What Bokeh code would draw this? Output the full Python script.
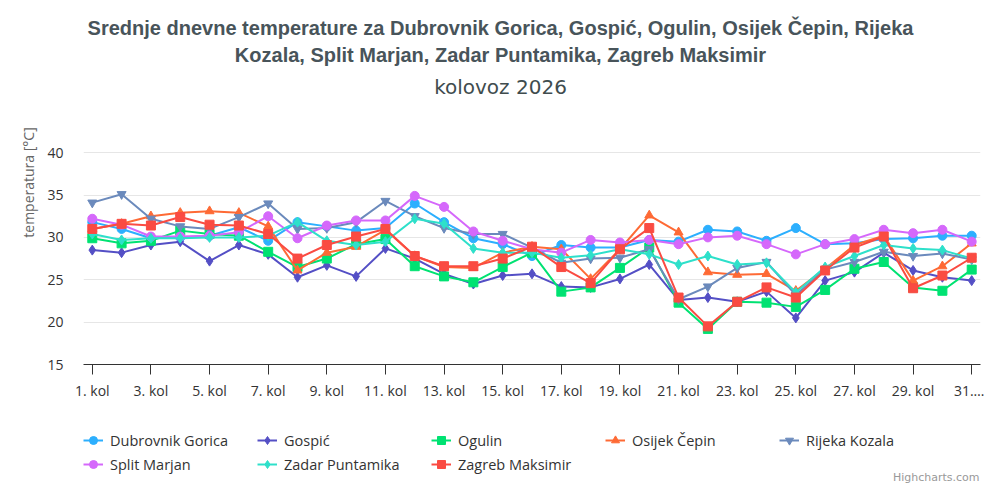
from bokeh.embed import file_html
from bokeh.layouts import column
from bokeh.models import FixedTicker, Label, Legend, LegendItem, Range1d
from bokeh.plotting import figure
from bokeh.resources import INLINE

# dani u kolovozu i oznake na osi x
days = list(range(1, 32))
tick_days = list(range(1, 32, 2))
tick_labels = ["1. kol", "3. kol", "5. kol", "7. kol", "9. kol", "11. kol",
               "13. kol", "15. kol", "17. kol", "19. kol", "21. kol", "23. kol",
               "25. kol", "27. kol", "29. kol", "31.…"]
y_ticks = [15, 20, 25, 30, 35, 40]

# srednje dnevne temperature [°C], očitane s grafikona
dubrovnik_gorica = [31.8, 31.0, 29.9, 30.0, 30.2, 31.2, 29.6, 31.8, 31.3, 30.8, 31.1,
                    34.0, 31.8, 29.9, 29.2, 27.8, 29.1, 28.8, 28.8, 29.7, 29.5, 30.9,
                    30.7, 29.6, 31.1, 29.2, 29.3, 29.8, 29.9, 30.2, 30.2]
gospic = [28.5, 28.2, 29.1, 29.5, 27.2, 29.1, 28.0, 25.3, 26.7, 25.4, 28.7,
          27.5, 25.7, 24.5, 25.5, 25.7, 24.2, 24.1, 25.1, 26.8, 22.6, 22.9,
          22.4, 23.6, 20.5, 24.9, 25.9, 28.2, 26.1, 25.3, 24.9]
ogulin = [29.9, 29.3, 29.6, 30.8, 30.4, 30.2, 28.3, 26.5, 27.5, 29.2, 29.8,
          26.6, 25.4, 24.7, 26.5, 28.2, 23.6, 24.1, 26.4, 28.8, 22.3, 19.2,
          22.4, 22.3, 21.8, 23.8, 26.3, 27.1, 24.1, 23.7, 26.2]
osijek_cepin = [31.0, 31.6, 32.5, 32.9, 33.1, 32.9, 31.3, 26.1, 28.2, 28.9, 30.9,
                27.8, 26.5, 26.4, 28.2, 28.9, 28.6, 25.1, 28.6, 32.6, 30.6, 25.9,
                25.6, 25.7, 23.7, 26.3, 29.1, 30.2, 24.9, 26.6, 29.3]
rijeka_kozala = [34.1, 35.1, 32.2, 31.3, 31.0, 32.4, 34.0, 31.0, 31.1, 31.8, 34.3,
                 32.5, 31.1, 30.4, 30.4, 28.8, 27.0, 27.5, 27.6, 28.6, 22.7, 24.2,
                 26.4, 27.1, 23.2, 26.2, 27.1, 28.3, 27.8, 28.1, 27.4]
split_marjan = [32.2, 31.5, 30.1, 30.1, 30.2, 30.6, 32.5, 29.9, 31.4, 32.0, 32.0,
                34.9, 33.6, 30.7, 29.6, 28.6, 28.2, 29.7, 29.4, 29.7, 29.2, 30.0,
                30.2, 29.2, 28.0, 29.2, 29.8, 30.9, 30.5, 30.9, 29.5]
zadar_puntamika = [30.4, 29.7, 29.9, 29.9, 30.0, 30.0, 30.2, 31.8, 29.6, 29.1, 29.5,
                   32.2, 31.6, 28.7, 28.2, 28.2, 27.6, 27.9, 28.6, 28.0, 26.8, 27.8,
                   26.8, 27.0, 23.5, 26.5, 27.8, 29.1, 28.7, 28.5, 27.5]
zagreb_maksimir = [31.0, 31.6, 31.4, 32.4, 31.5, 31.4, 30.4, 27.5, 29.1, 30.1, 31.0,
                   27.8, 26.6, 26.6, 27.5, 28.9, 26.5, 24.6, 28.6, 31.1, 22.9, 19.5,
                   22.4, 24.1, 22.9, 26.1, 28.8, 30.1, 24.0, 25.5, 27.6]

names = ["Dubrovnik Gorica", "Gospić", "Ogulin", "Osijek Čepin", "Rijeka Kozala",
         "Split Marjan", "Zadar Puntamika", "Zagreb Maksimir"]
series = [dubrovnik_gorica, gospic, ogulin, osijek_cepin, rijeka_kozala,
          split_marjan, zadar_puntamika, zagreb_maksimir]
colors = ["#2caffe", "#544fc5", "#00e272", "#fe6a35", "#6b8abc",
          "#d568fb", "#2ee0ca", "#fa4b42"]
markers = ["circle", "diamond", "square", "triangle", "inverted_triangle",
           "circle", "diamond", "square"]
marker_sizes = [9, 10, 9, 9, 9, 9, 10, 9]

FONT = "Open Sans"

# okvir ide do vrha platna (bez obruba i gornje mreže), pa naslovi stanu u njega;
# 15..40 °C zauzima 213 px, a cijeli okvir 366 px
frame_h = 366
y_top = 15 + 25 * frame_h / 213

p = figure(width=984, height=402, x_range=Range1d(0.7, 31.3), y_range=Range1d(15, y_top),
           output_backend="svg", toolbar_location=None, tools="",
           min_border_left=83, min_border_right=4, min_border_top=0,
           min_border_bottom=36)
p.outline_line_color = None
p.xgrid.grid_line_color = None
p.ygrid.grid_line_color = "#e6e6e6"
p.ygrid.ticker = FixedTicker(ticks=y_ticks)

p.xaxis.ticker = FixedTicker(ticks=tick_days)
p.xaxis.major_label_overrides = dict(zip(tick_days, tick_labels))
p.xaxis.axis_line_color = "#333333"
p.xaxis.major_tick_line_color = "#333333"
p.xaxis.major_tick_out = 10
p.xaxis.major_tick_in = 0
p.xaxis.minor_tick_line_color = None
p.xaxis.major_label_standoff = 6
p.xaxis.major_label_text_font = FONT
p.xaxis.major_label_text_font_size = "14px"
p.xaxis.major_label_text_color = "#333333"

p.yaxis.ticker = FixedTicker(ticks=y_ticks)
p.yaxis.axis_line_color = None
p.yaxis.major_tick_line_color = None
p.yaxis.minor_tick_line_color = None
p.yaxis.major_tick_out = 0
p.yaxis.major_tick_in = 0
p.yaxis.major_label_standoff = 20
p.yaxis.major_label_text_font = FONT
p.yaxis.major_label_text_font_size = "14px"
p.yaxis.major_label_text_color = "#333333"
p.yaxis.axis_label = "temperatura [°C]"
p.yaxis.axis_label_text_font = FONT
p.yaxis.axis_label_text_font_size = "14px"
p.yaxis.axis_label_text_font_style = "normal"
p.yaxis.axis_label_text_color = "#666666"
p.yaxis.axis_label_standoff = 6

for vals, col, mk, sz in zip(series, colors, markers, marker_sizes):
    p.line(days, vals, line_color=col, line_width=2)
    p.scatter(days, vals, marker=mk, size=sz, fill_color=col, line_color=col)

# naslov i podnaslov (pikseli od donjeg lijevog kuta okvira)
title_lines = ["Srednje dnevne temperature za Dubrovnik Gorica, Gospić, Ogulin, Osijek Čepin, Rijeka",
               "Kozala, Split Marjan, Zadar Puntamika, Zagreb Maksimir"]
for txt, yy in zip(title_lines, [336.7, 310]):
    p.add_layout(Label(x=417, y=yy, x_units="screen", y_units="screen", text=txt,
                       text_align="center", text_baseline="alphabetic",
                       text_font="Liberation Sans", text_font_size="20px",
                       text_font_style="bold", text_color="#48545a"))
p.add_layout(Label(x=417, y=277.7, x_units="screen", y_units="screen", text="kolovoz 2026",
                   text_align="center", text_baseline="alphabetic",
                   text_font="DejaVu Sans", text_font_size="20px",
                   text_color="#404c4e"))

# donja traka: legenda i oznaka izvora (isti nizovi, izvan vidljivog raspona,
# samo da legenda ima svoje simbole)
leg = figure(width=984, height=82, x_range=Range1d(-2, -1), y_range=Range1d(-2, -1),
             output_backend="svg", toolbar_location=None, tools="",
             x_axis_location=None, y_axis_location=None,
             min_border_left=0, min_border_right=0, min_border_top=0, min_border_bottom=0)
leg.outline_line_color = None
leg.xgrid.visible = False
leg.ygrid.visible = False

items = []
for name, vals, col, mk, sz in zip(names, series, colors, markers, marker_sizes):
    ln = leg.line(days, vals, line_color=col, line_width=2)
    sc = leg.scatter(days, vals, marker=mk, size=sz, fill_color=col, line_color=col)
    items.append(LegendItem(label=name, renderers=[ln, sc]))

legend = Legend(items=items, orientation="horizontal", ncols=5, location=(0, 10),
                padding=0, margin=0, spacing=4, glyph_width=20, glyph_height=20,
                label_standoff=7, label_width=143, label_height=20,
                label_text_font=FONT, label_text_font_size="14.5px",
                label_text_color="#333333", border_line_color=None,
                background_fill_alpha=0)
leg.add_layout(legend)

leg.add_layout(Label(x=896, y=7, x_units="screen", y_units="screen", text="Highcharts.com",
                     text_align="right", text_baseline="alphabetic",
                     text_font="DejaVu Sans", text_font_size="11px",
                     text_color="#999999"))

layout = column(p, leg, spacing=0)
open("out.html", "w").write(file_html(layout, INLINE))
